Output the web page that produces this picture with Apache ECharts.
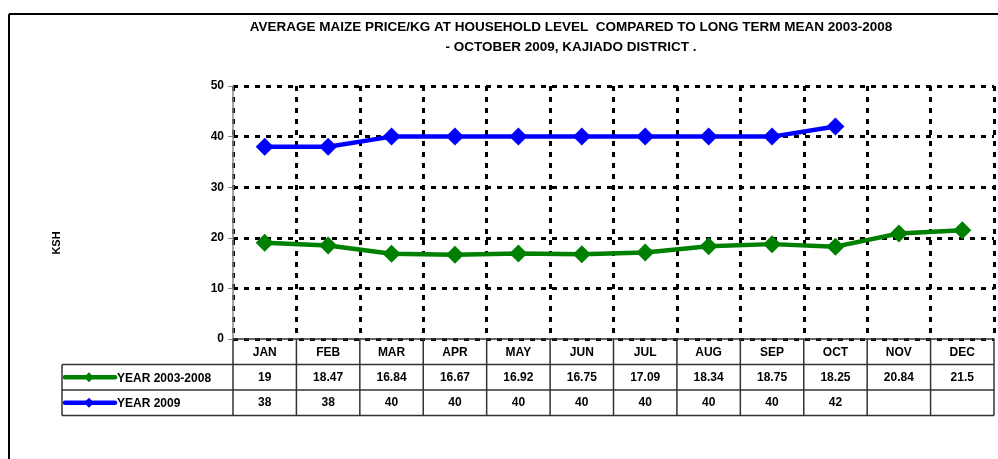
<!DOCTYPE html>
<html>
<head>
<meta charset="utf-8">
<script src="https://cdn.jsdelivr.net/npm/echarts@6/dist/echarts.min.js"></script>
<style>
  html, body { margin: 0; padding: 0; background: #fff; }
  #chart { width: 998px; height: 459px; }
</style>
</head>
<body>
<div id="chart"></div>
<script>
var months = ['JAN', 'FEB', 'MAR', 'APR', 'MAY', 'JUN', 'JUL', 'AUG', 'SEP', 'OCT', 'NOV', 'DEC'];
var longTermName = 'YEAR 2003-2008';
var longTermMean = [19, 18.47, 16.84, 16.67, 16.92, 16.75, 17.09, 18.34, 18.75, 18.25, 20.84, 21.5];
var year2009Name = 'YEAR 2009';
var year2009 = [38, 38, 40, 40, 40, 40, 40, 40, 40, 42, null, null];
var yTicks = [0, 10, 20, 30, 40, 50];
var yTitle = 'KSH';

var chart = echarts.init(document.getElementById('chart'));
var font = 'Arial, "Liberation Sans", sans-serif';

// 网格线样式
var dash = { color: '#000', width: 3, type: [5, 6] };

chart.setOption({
  backgroundColor: '#ffffff',
  animation: false,
  title: {
    text: 'AVERAGE MAIZE PRICE/KG AT HOUSEHOLD LEVEL  COMPARED TO LONG TERM MEAN 2003-2008\n- OCTOBER 2009, KAJIADO DISTRICT .',
    left: 566,
    textAlign: 'center',
    top: 12,
    textStyle: { fontFamily: font, fontSize: 13.5, fontWeight: 'bold', color: '#000', lineHeight: 20 }
  },
  grid: { left: 233, right: 4, top: 86, bottom: 120 },
  xAxis: {
    type: 'category',
    data: months,
    boundaryGap: true,
    axisLine: { lineStyle: { color: '#333', width: 1.5 } },
    axisTick: { show: false },
    axisLabel: { fontFamily: font, fontSize: 12, fontWeight: 'bold', color: '#000', margin: 8 },
    splitLine: { show: true, lineStyle: dash }
  },
  yAxis: {
    type: 'value',
    min: 0,
    max: 50,
    interval: 10,
    axisLine: { show: true, lineStyle: { color: '#888', width: 1.5 } },
    axisTick: { show: true, length: 5, lineStyle: { color: '#888' } },
    axisLabel: {
      fontFamily: font, fontSize: 12, fontWeight: 'bold', color: '#000', margin: 9,
      formatter: function (v) { return yTicks.indexOf(v) >= 0 ? String(v) : ''; }
    },
    splitLine: { show: true, lineStyle: dash }
  },
  series: [
    {
      name: longTermName,
      type: 'line',
      data: longTermMean,
      symbol: 'diamond',
      symbolSize: 18,
      lineStyle: { color: '#008000', width: 4.5 },
      itemStyle: { color: '#008000' },
      z: 5
    },
    {
      name: year2009Name,
      type: 'line',
      data: year2009,
      symbol: 'diamond',
      symbolSize: 18,
      lineStyle: { color: '#0000ff', width: 4.5 },
      itemStyle: { color: '#0000ff' },
      z: 5
    }
  ]
});

// 数据表
function buildTable() {
  var g = [];
  var x0 = chart.convertToPixel({ xAxisIndex: 0 }, 0);
  var x1 = chart.convertToPixel({ xAxisIndex: 0 }, 1);
  var cw = x1 - x0;
  var left = x0 - cw / 2;
  var right = left + cw * months.length;
  var yAxis0 = chart.convertToPixel({ yAxisIndex: 0 }, 0);
  var rowH = 25.5;
  var r1 = yAxis0 + rowH;
  var r2 = r1 + rowH;
  var r3 = r2 + rowH;
  var labelLeft = 62;
  var ls = { stroke: '#333', lineWidth: 1.5 };

  g.push({ type: 'line', shape: { x1: labelLeft, y1: r1, x2: right, y2: r1 }, style: ls });
  g.push({ type: 'line', shape: { x1: labelLeft, y1: r2, x2: right, y2: r2 }, style: ls });
  g.push({ type: 'line', shape: { x1: labelLeft, y1: r3, x2: right, y2: r3 }, style: ls });
  g.push({ type: 'line', shape: { x1: labelLeft, y1: r1, x2: labelLeft, y2: r3 }, style: ls });
  for (var i = 0; i <= months.length; i++) {
    var bx = left + cw * i;
    g.push({ type: 'line', shape: { x1: bx, y1: yAxis0, x2: bx, y2: r3 }, style: ls });
  }

  var rows = [
    { name: longTermName, data: longTermMean, color: '#008000', y: (r1 + r2) / 2 },
    { name: year2009Name, data: year2009, color: '#0000ff', y: (r2 + r3) / 2 }
  ];
  rows.forEach(function (row) {
    g.push({ type: 'line', shape: { x1: 65, y1: row.y, x2: 115, y2: row.y },
      style: { stroke: row.color, lineWidth: 4.5, lineCap: 'round' } });
    g.push({ type: 'polygon', shape: { points: [[89, row.y - 5], [94, row.y], [89, row.y + 5], [84, row.y]] },
      style: { fill: row.color } });
    g.push({ type: 'text', x: 117, y: row.y + 1,
      style: { text: row.name, fontFamily: font, fontSize: 12, fontWeight: 'bold', fill: '#000', verticalAlign: 'middle' } });
    row.data.forEach(function (v, j) {
      if (v == null) return;
      g.push({ type: 'text', x: left + cw * (j + 0.5), y: row.y,
        style: { text: String(v), fontFamily: font, fontSize: 12, fontWeight: 'bold', fill: '#000', align: 'center', verticalAlign: 'middle' } });
    });
  });

  // y轴标题
  g.push({ type: 'text', x: 57, y: 243, rotation: Math.PI / 2,
    style: { text: yTitle, fontFamily: font, fontSize: 11, fontWeight: 'bold', fill: '#000', align: 'center', verticalAlign: 'middle' } });

  // 外框
  g.push({ type: 'line', shape: { x1: 9, y1: 14, x2: 998, y2: 14 }, style: { stroke: '#000', lineWidth: 2 } });
  g.push({ type: 'line', shape: { x1: 9, y1: 14, x2: 9, y2: 459 }, style: { stroke: '#000', lineWidth: 2 } });

  chart.setOption({ graphic: { elements: g } });
}
buildTable();
</script>
</body>
</html>
